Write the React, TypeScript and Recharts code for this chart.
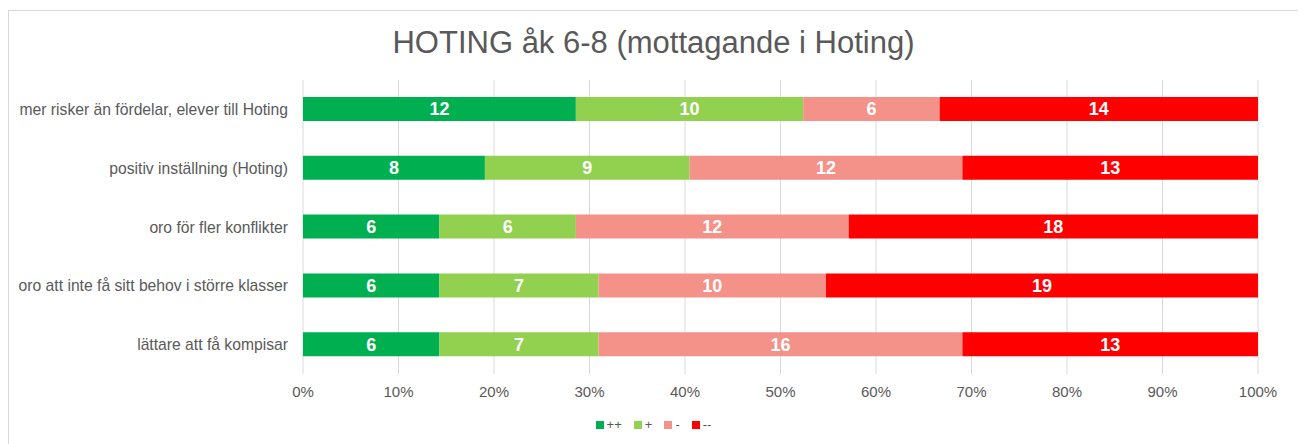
import { BarChart, Bar, XAxis, YAxis, CartesianGrid, LabelList } from "recharts";

const categories = [
  "mer risker än fördelar, elever till Hoting",
  "positiv inställning (Hoting)",
  "oro för fler konflikter",
  "oro att inte få sitt behov i större klasser",
  "lättare att få kompisar",
];

const plusPlus = [12, 8, 6, 6, 6];
const plus = [10, 9, 6, 7, 7];
const minus = [6, 12, 12, 10, 16];
const minusMinus = [14, 13, 18, 19, 13];

const xTicks = [0, 10, 20, 30, 40, 50, 60, 70, 80, 90, 100];

const series = [
  { key: "pp", name: "++", values: plusPlus, color: "#00B050" },
  { key: "p", name: "+", values: plus, color: "#92D050" },
  { key: "m", name: "-", values: minus, color: "#F4928A" },
  { key: "mm", name: "--", values: minusMinus, color: "#FF0000" },
];

const data = categories.map((name, i) => {
  const total = series.reduce((s, x) => s + x.values[i], 0);
  const row: Record<string, string | number> = { name };
  series.forEach((s) => {
    row[s.key] = (s.values[i] / total) * 100;
    row[s.key + "Count"] = s.values[i];
  });
  return row;
});

const gray = "#595959";
const font = "'Liberation Sans', Arial, sans-serif";

export default function App() {
  return (
    <div
      style={{
        position: "relative",
        marginTop: 2,
        width: 1289,
        height: 440,
        border: "1px solid #d9d9d9",
        fontFamily: font,
        background: "#fff",
      }}
    >
      <div
        style={{
          position: "absolute",
          top: 14,
          left: 0,
          width: "100%",
          textAlign: "center",
          fontSize: 31,
          color: gray,
        }}
      >
        HOTING åk 6-8 (mottagande i Hoting)
      </div>
      <BarChart
        width={1288}
        height={433}
        data={data}
        layout="vertical"
        margin={{ top: 69, right: 39, bottom: 40, left: 0 }}
        barSize={24}
      >
        <CartesianGrid horizontal={false} stroke="#d9d9d9" />
        <XAxis
          type="number"
          domain={[0, 100]}
          ticks={xTicks}
          tickFormatter={(v) => `${v}%`}
          axisLine={false}
          tickLine={false}
          tickSize={0}
          tickMargin={12}
          height={30}
          interval={0}
          tick={{ fill: gray, fontSize: 15, fontFamily: font }}
        />
        <YAxis
          type="category"
          dataKey="name"
          width={294}
          axisLine={false}
          tickLine={false}
          tickSize={0}
          tickMargin={15}
          interval={0}
          tick={{ fill: gray, fontSize: 15.7, fontFamily: font }}
        />
        {series.map((s) => (
          <Bar
            key={s.key}
            dataKey={s.key}
            name={s.name}
            stackId="a"
            fill={s.color}
            isAnimationActive={false}
          >
            <LabelList
              dataKey={s.key + "Count"}
              position="center"
              fill="#fff"
              style={{ fontWeight: "bold", fontSize: 18, fontFamily: font }}
            />
          </Bar>
        ))}
      </BarChart>
      <div
        style={{
          position: "absolute",
          top: 406,
          left: 0,
          width: "100%",
          display: "flex",
          justifyContent: "center",
          gap: 12,
          fontSize: 13,
          color: gray,
        }}
      >
        {series.map((s) => (
          <div key={s.key} style={{ display: "flex", alignItems: "center", gap: 3 }}>
            <span style={{ width: 8, height: 8, background: s.color, display: "inline-block" }} />
            <span>{s.name}</span>
          </div>
        ))}
      </div>
    </div>
  );
}
